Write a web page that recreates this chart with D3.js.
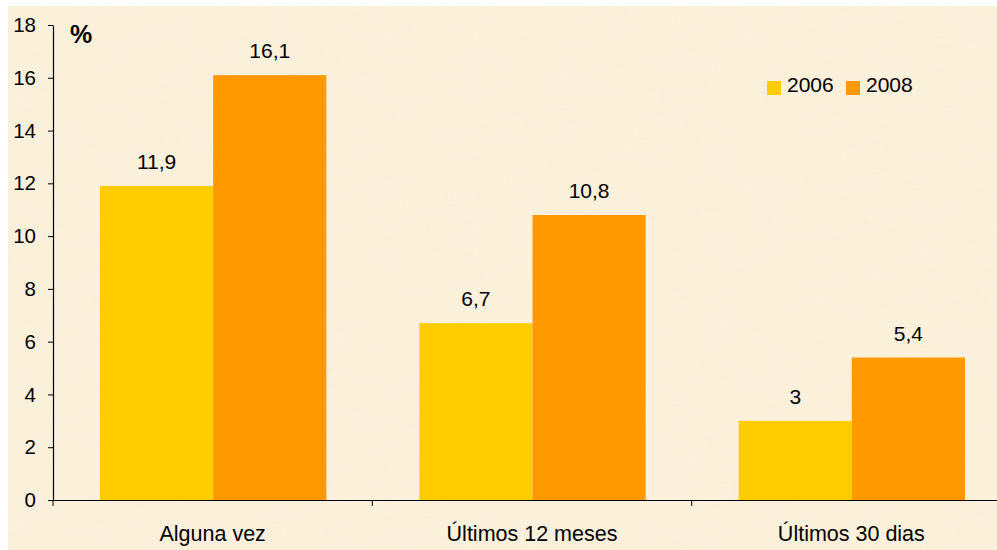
<!DOCTYPE html>
<html>
<head>
<meta charset="utf-8">
<script src="https://cdn.jsdelivr.net/npm/d3@7"></script>
<style>
  html, body { margin: 0; padding: 0; background: #ffffff; }
  svg { display: block; }
  text { font-family: "Liberation Sans", Arial, sans-serif; fill: #000; }
</style>
</head>
<body>
<svg id="chart" width="997" height="550"></svg>
<script>
const categories = ["Alguna vez", "Últimos 12 meses", "Últimos 30 dias"];
const seriesNames = ["2006", "2008"];
const values2006 = [11.9, 6.7, 3];
const values2008 = [16.1, 10.8, 5.4];
const labels2006 = ["11,9", "6,7", "3"];
const labels2008 = ["16,1", "10,8", "5,4"];
const yTicks = [0, 2, 4, 6, 8, 10, 12, 14, 16, 18];
const colors = ["#FFCC00", "#FF9900"];

const seriesValues = [values2006, values2008];
const seriesLabels = [labels2006, labels2008];

const W = 997, H = 550;
const FONT = "Liberation Sans, Arial, sans-serif";
const svg = d3.select("#chart");

// background
const defs = svg.append("defs");
const filt = defs.append("filter").attr("id", "tex").attr("x", 0).attr("y", 0).attr("width", "100%").attr("height", "100%");
filt.append("feTurbulence").attr("type", "fractalNoise").attr("baseFrequency", "0.02 0.04").attr("numOctaves", 3).attr("seed", 4).attr("result", "noise");
filt.append("feColorMatrix").attr("in", "noise").attr("type", "matrix")
  .attr("values", "0 0 0 0 0.98  0 0 0 0 0.92  0 0 0 0 0.80  0 0 0 0.25 0");
svg.append("rect").attr("x", 8).attr("y", 6).attr("width", W - 8).attr("height", H - 6).attr("fill", "#FBF0DA");
svg.append("rect").attr("x", 8).attr("y", 6).attr("width", W - 8).attr("height", H - 6).attr("filter", "url(#tex)").attr("opacity", 0.6);

const x0 = d3.scaleBand().domain(categories).range([53, 1011]).paddingInner(0).paddingOuter(0);
const innerPad = 47;
const x1 = d3.scaleBand().domain(seriesNames).range([innerPad, x0.bandwidth() - innerPad + 1]).padding(0);
const y = d3.scaleLinear().domain([0, 18]).range([500, 25]);

// bars
categories.forEach((c, i) => {
  const g = svg.append("g").attr("transform", `translate(${x0(c)},0)`);
  seriesNames.forEach((s, j) => {
    const v = seriesValues[j][i];
    g.append("rect")
      .attr("x", x1(s))
      .attr("y", y(v))
      .attr("width", x1.bandwidth())
      .attr("height", y(0) - y(v))
      .attr("fill", colors[j]);
    g.append("text")
      .attr("x", x1(s) + x1.bandwidth() / 2)
      .attr("y", y(v) - 17)
      .attr("text-anchor", "middle")
      .attr("font-size", 21)
      .text(seriesLabels[j][i]);
  });
});

// y axis
const yAxis = d3.axisLeft(y).tickValues(yTicks).tickSize(5).tickSizeOuter(0).tickPadding(12).tickFormat(d3.format("d"));
const gy = svg.append("g").attr("transform", "translate(53,0)").call(yAxis);
gy.select(".domain").attr("stroke", "#000").attr("stroke-width", 1.2);
gy.selectAll(".tick line").attr("stroke", "#000");
gy.selectAll(".tick text").attr("font-size", 20.5).attr("font-family", FONT).attr("fill", "#000");

// x axis
const xAxis = d3.axisBottom(x0).tickSize(0).tickSizeOuter(0).tickPadding(26);
const gx = svg.append("g").attr("transform", "translate(0,500)").call(xAxis);
gx.select(".domain").attr("stroke", "#000").attr("stroke-width", 1.2);
gx.selectAll(".tick text").attr("font-size", 21.5).attr("font-family", FONT).attr("fill", "#000");
// category separators
x0.domain().forEach((c) => {
  gx.append("line").attr("x1", x0(c)).attr("x2", x0(c)).attr("y1", 0).attr("y2", 6).attr("stroke", "#000");
});

// unit label
svg.append("text").attr("x", 70).attr("y", 43).attr("font-size", 25).attr("font-weight", "bold").text("%");

// legend
const legend = svg.append("g").attr("transform", "translate(767,81)");
const legX = [0, 79];
seriesNames.forEach((s, j) => {
  legend.append("rect").attr("x", legX[j]).attr("y", 0).attr("width", 14).attr("height", 14).attr("fill", colors[j]);
  legend.append("text").attr("x", legX[j] + 20).attr("y", 11).attr("font-size", 21).text(s);
});
</script>
</body>
</html>
